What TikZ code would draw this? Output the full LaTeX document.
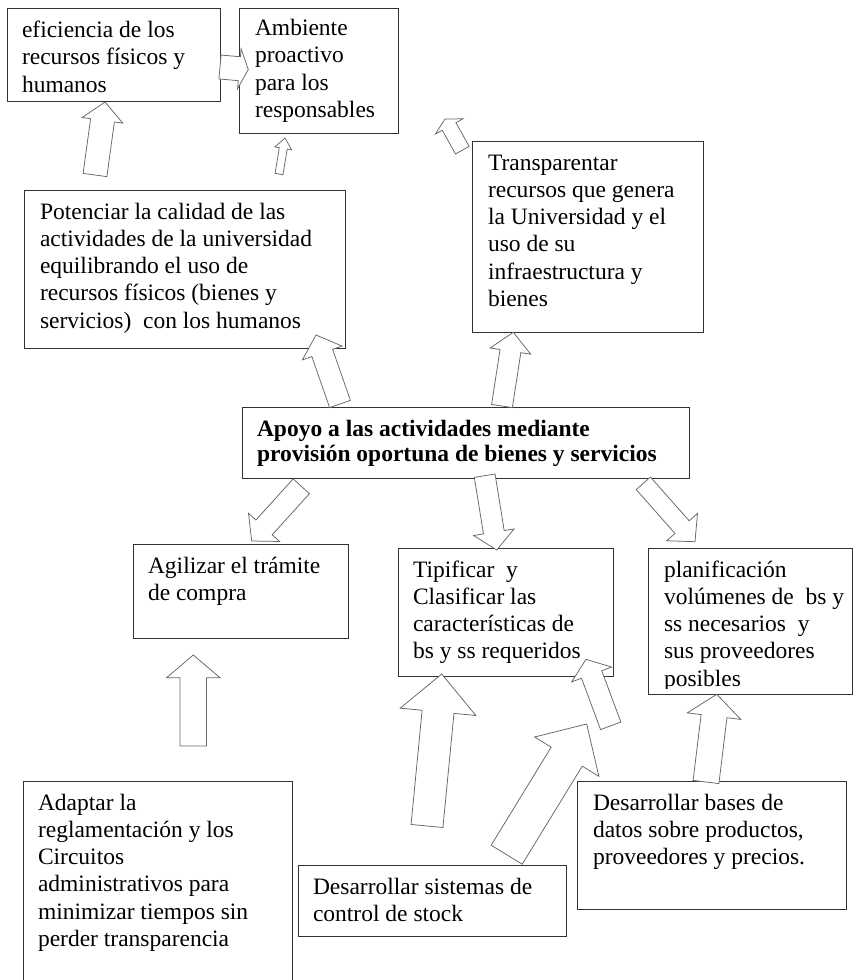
\documentclass[tikz,border=0pt]{standalone}
\usepackage{fontspec}
\setmainfont{Liberation Serif}
\usetikzlibrary{calc}
\tikzset{
  box/.style={draw=black!80, line width=0.9pt, inner sep=0pt, outer sep=0pt, anchor=north west},
  txt/.style={inner sep=0pt, outer sep=0pt, anchor=base west, font=\fontsize{23.5}{27.3}\selectfont},
  blockarrow/.style={draw=black!60, line width=0.75pt, fill=white, line join=miter},
}
\newcommand\tl[1]{\begin{tabular}[t]{@{}l@{}}#1\end{tabular}}
% block arrow: #1 tail, #2 tip, #3 shaft half width, #4 head half width, #5 head length
\newcommand\barrow[5]{%
  \path ($(#2)!#5!(#1)$) coordinate (hb);
  \draw[blockarrow] ($(#1)!#3!90:(#2)$) -- ($(hb)!#3!90:(#2)$) -- ($(hb)!#4!90:(#2)$)
     -- (#2) -- ($(hb)!#4!-90:(#2)$) -- ($(hb)!#3!-90:(#2)$) -- ($(#1)!#3!-90:(#2)$) -- cycle;
}
\begin{document}
\begin{tikzpicture}[x=1pt,y=-1pt]
\useasboundingbox (0,0) rectangle (854,980);
\clip (0,0) rectangle (854,980);
\fill[white] (0,0) rectangle (854,980);

% boxes
\node[box, minimum width=213pt, minimum height=93pt]  (efi) at (7,8) {};
\node[box, minimum width=159pt, minimum height=125pt] (amb) at (239,8) {};
\node[box, minimum width=321pt, minimum height=158pt] (pot) at (24,190) {};
\node[box, minimum width=231pt, minimum height=191pt] (tra) at (472,141) {};
\node[box, minimum width=447pt, minimum height=71pt]  (apo) at (242,407) {};
\node[box, minimum width=215pt, minimum height=94pt]  (agi) at (133,544) {};
\node[box, minimum width=215pt, minimum height=128pt] (tip) at (398,548) {};
\node[box, minimum width=204pt, minimum height=146pt] (pla) at (648,548) {};
\node[box, minimum width=269pt, minimum height=215pt] (ada) at (23,781) {};
\node[box, minimum width=268pt, minimum height=71pt]  (dss) at (298,865) {};
\node[box, minimum width=269pt, minimum height=128pt] (dbd) at (577,781) {};

% texts
\node[txt] (efit) at (22,37.5) {\tl{eficiencia de los\\recursos físicos y\\humanos}};
\node[txt] (ambt) at (255,35.5) {\tl{Ambiente\\proactivo\\para los\\responsables}};
\node[txt] (pott) at (40,219) {\tl{Potenciar la calidad de las\\actividades de la universidad\\equilibrando el uso de\\recursos físicos (bienes y\\servicios)~ con los humanos}};
\node[txt] (trat) at (488,170) {\tl{Transparentar\\recursos que genera\\la Universidad y el\\uso de su\\infraestructura y\\bienes}};
\node[txt, font=\fontsize{23.5}{25.5}\selectfont\bfseries] (apot) at (257,436) {\tl{Apoyo a las actividades mediante\\provisión oportuna de bienes y servicios}};
\node[txt] (agit) at (148,573) {\tl{Agilizar el trámite\\de compra}};
\node[txt] (tipt) at (413,577) {\tl{Tipificar~ y\\Clasificar las\\características de\\bs y ss requeridos}};
\begin{scope}
  \clip (648,548) rectangle (852,688);
  \node[txt] (plat) at (664,577) {\tl{planificación\\volúmenes de~ bs y\\ss necesarios~ y\\sus proveedores\\posibles}};
\end{scope}
\node[txt] (adat) at (38,810) {\tl{Adaptar la\\reglamentación y los\\Circuitos\\administrativos para\\minimizar tiempos sin\\perder transparencia}};
\node[txt] (dsst) at (313,894) {\tl{Desarrollar sistemas de\\control de stock}};
\node[txt] (dbdt) at (593,810) {\tl{Desarrollar bases de\\datos sobre productos,\\proveedores y precios.}};

% arrow end points
\coordinate (a1t) at (95,175);    \coordinate (a1h) at (105,102);
\coordinate (a2t) at (279,174);   \coordinate (a2h) at (285,138);
\coordinate (a3t) at (220,67);    \coordinate (a3h) at (248.3,69.5);
\coordinate (a4t) at (462.3,150.2); \coordinate (a4h) at (445,119);
\coordinate (a5t) at (340,404);   \coordinate (a5h) at (316,335);
\coordinate (a6t) at (502,406);   \coordinate (a6h) at (513.3,332.3);
\coordinate (a7t) at (301.3,486.3); \coordinate (a7h) at (251.7,541);
\coordinate (a8t) at (484.7,475.7); \coordinate (a8h) at (496.7,550);
\coordinate (a9t) at (643.3,483.3); \coordinate (a9h) at (695,541.7);
\coordinate (a10t) at (193.3,746); \coordinate (a10h) at (193.3,655);
\coordinate (a11t) at (427,826);  \coordinate (a11h) at (441.7,674);
\coordinate (a12t) at (610.7,725.8); \coordinate (a12h) at (586,659.3);
\coordinate (a13t) at (506.7,854.7); \coordinate (a13h) at (586.7,724);
\coordinate (a14t) at (706,782);  \coordinate (a14h) at (716.7,694.3);

\barrow{a1t}{a1h}{12pt}{20.5pt}{18.5pt}
\barrow{a2t}{a2h}{4pt}{8.5pt}{10.5pt}
\barrow{a3t}{a3h}{12pt}{20pt}{9pt}
\barrow{a4t}{a4h}{7.8pt}{15.7pt}{8.5pt}
\barrow{a5t}{a5h}{11pt}{21pt}{19pt}
\barrow{a6t}{a6h}{10.5pt}{20.5pt}{19pt}
\barrow{a7t}{a7h}{11pt}{21pt}{18.4pt}
\barrow{a8t}{a8h}{10.5pt}{20.5pt}{18pt}
\barrow{a9t}{a9h}{9.5pt}{20.6pt}{19.5pt}
\barrow{a10t}{a10h}{13.3pt}{26.7pt}{22.7pt}
\barrow{a11t}{a11h}{16pt}{38pt}{38pt}
\barrow{a12t}{a12h}{10.8pt}{21.3pt}{16.2pt}
\barrow{a13t}{a13h}{18.2pt}{37.7pt}{38.3pt}
\barrow{a14t}{a14h}{13pt}{27pt}{22pt}
\end{tikzpicture}
\end{document}
